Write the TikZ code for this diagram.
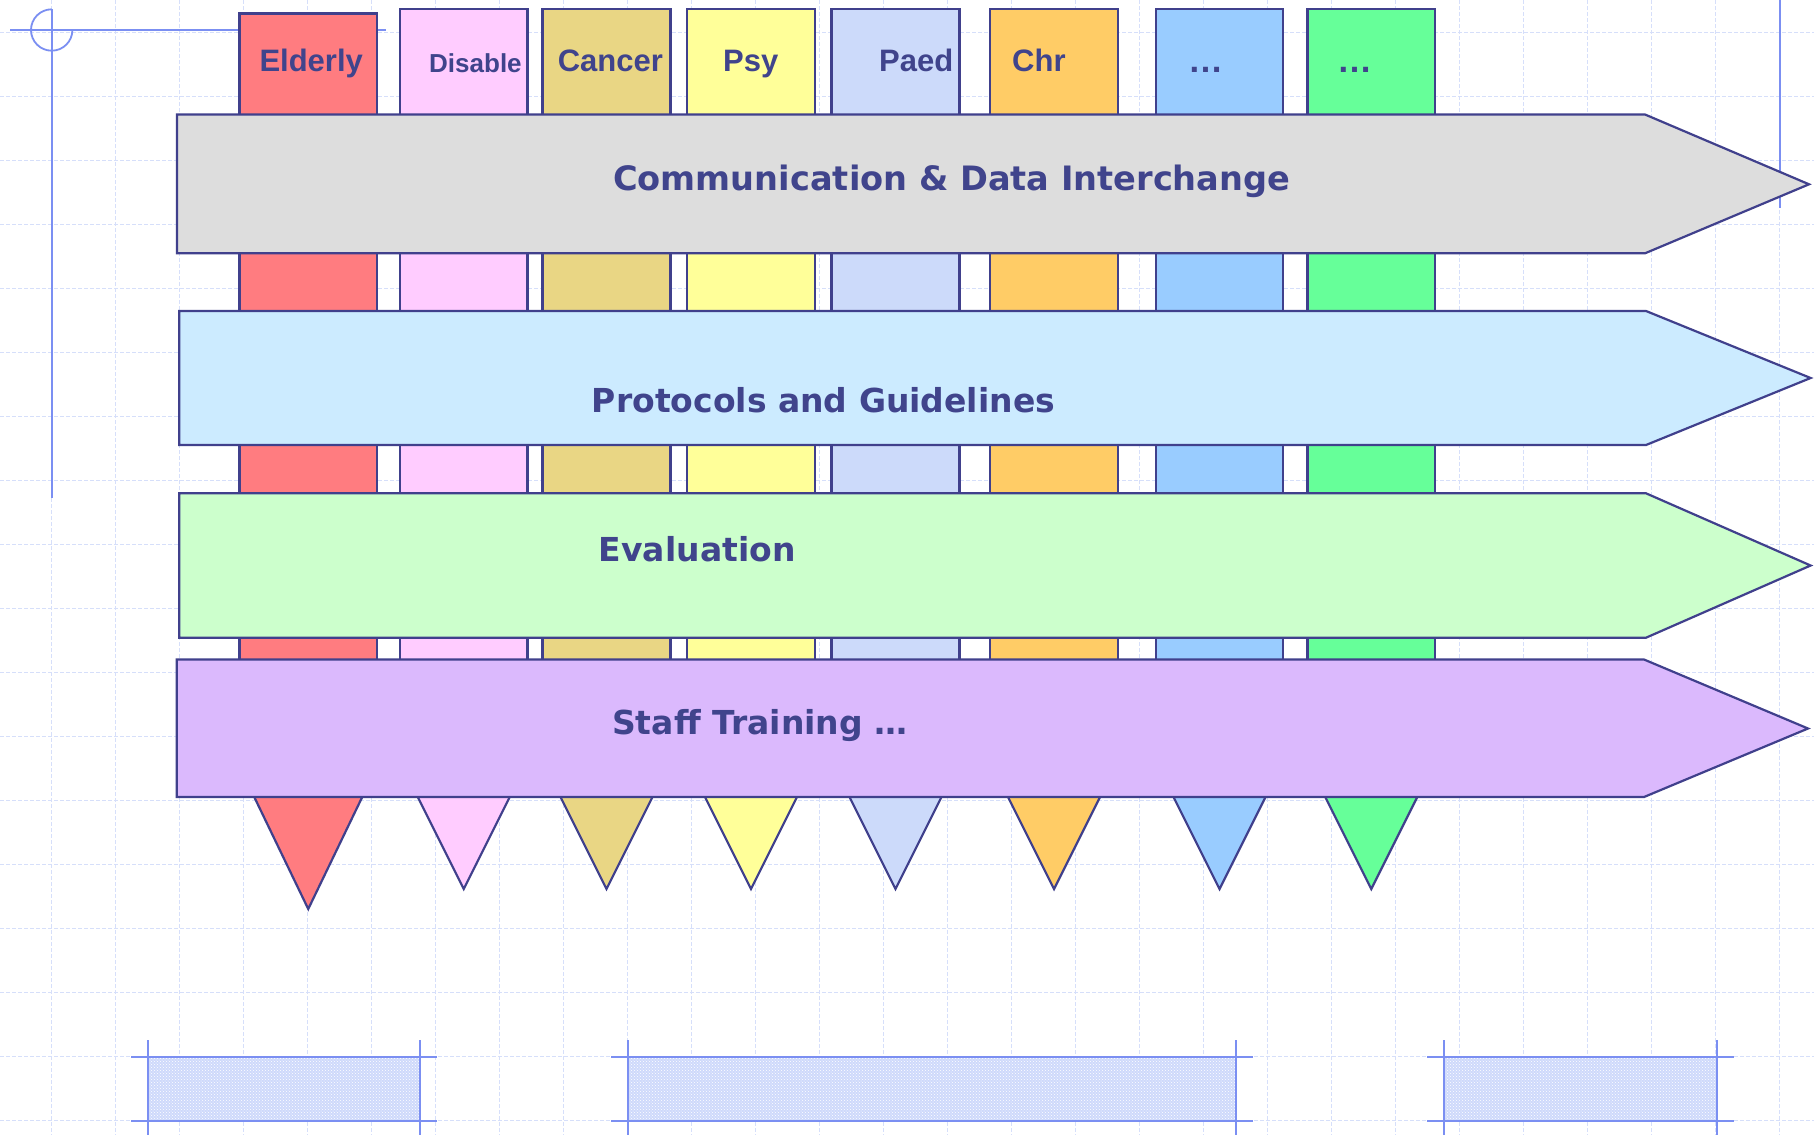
\documentclass[tikz,border=0pt]{standalone}
\usepackage{fontspec}
\usepackage{xcolor}
\usepackage{tikz}
\usetikzlibrary{patterns}

\newfontfamily\bandfont{DejaVu Sans}
\newfontfamily\colfont{Liberation Sans}

\definecolor{navyline}{RGB}{64,64,140}
\definecolor{labelblue}{RGB}{64,68,140}
\definecolor{gridblue}{RGB}{214,223,250}
\definecolor{decoblue}{RGB}{123,143,242}
\definecolor{hatchblue}{RGB}{206,217,251}
\definecolor{colElderly}{RGB}{255,124,128}
\definecolor{colDisable}{RGB}{255,204,255}
\definecolor{colCancer}{RGB}{233,214,132}
\definecolor{colPsy}{RGB}{255,255,153}
\definecolor{colPaed}{RGB}{204,218,250}
\definecolor{colChr}{RGB}{255,204,102}
\definecolor{colMoreA}{RGB}{153,204,255}
\definecolor{colMoreB}{RGB}{102,255,153}
\definecolor{commgray}{RGB}{221,221,221}
\definecolor{protoblue}{RGB}{204,235,255}
\definecolor{evalgreen}{RGB}{204,255,204}
\definecolor{staffviolet}{RGB}{219,185,253}

\begin{document}
\begin{tikzpicture}[x=1pt, y=-1pt,
        gridline/.style={gridblue, line width=1pt, dash pattern=on 4pt off 2pt},
        decoline/.style={decoblue, line width=1.8pt},
        column/.style={draw=navyline, line width=2.2pt},
        band/.style={draw=navyline, line width=2.2pt},
        bandlabel/.style={anchor=base west, inner sep=0pt, text=labelblue, font=\bandfont\bfseries\fontsize{33}{40}\selectfont},
        collabel/.style={anchor=base west, inner sep=0pt, text=labelblue, font=\colfont\bfseries\fontsize{31}{38}\selectfont}]
    \useasboundingbox (0,0) rectangle (1814,1135);
    \fill[white] (0,0) rectangle (1814,1135);

    % background grid
    \foreach \x in {-12.3,51.7,...,1814} \draw[gridline] (\x,0) -- (\x,1135);
    \foreach \y in {32.5,96.5,...,1135} \draw[gridline] (0,\y) -- (1814,\y);

    % corner marks
    \draw[decoline] (10,30) -- (386,30);
    \draw[decoline] (51.7,9.3) -- (51.7,498);
    \draw[decoline] (51.7,9.3) arc[start angle=90, end angle=360, radius=20.7pt];
    \draw[decoline] (1780,0) -- (1780,208);

    % columns with their pointers
    \foreach \l/\r/\t/\c/\h/\a in {239.5/377/13.5/colElderly/54/909,
                                   400/527.5/9.3/colDisable/46/889,
                                   542.5/670.5/9.3/colCancer/46/889,
                                   687/815/9.3/colPsy/46/889,
                                   831.5/959.5/9.3/colPaed/46/889,
                                   990/1118/9.3/colChr/46/889,
                                   1156/1283/9.3/colMoreA/46/889,
                                   1307.5/1435/9.3/colMoreB/46/889} {
        \filldraw[column, fill=\c] (\l,\t) rectangle (\r,700);
        \filldraw[column, fill=\c] ({(\l+\r)/2-\h},797) -- ({(\l+\r)/2},\a) -- ({(\l+\r)/2+\h},797);
    }
    \node[collabel] (elderly) at (259.3,71.5) {Elderly};
    \node[collabel, font=\colfont\bfseries\fontsize{26}{32}\selectfont] (disable) at (429,72.5) {Disable};
    \node[collabel] (cancer) at (557.6,71.5) {Cancer};
    \node[collabel] (psy) at (723,71.5) {Psy};
    \node[collabel] (paed) at (879,71.5) {Paed};
    \node[collabel] (chr) at (1012,71.5) {Chr};
    \node[collabel, font=\colfont\bfseries\fontsize{35}{40}\selectfont] (moreA) at (1188,72) {…};
    \node[collabel, font=\colfont\bfseries\fontsize{35}{40}\selectfont] (moreB) at (1337.6,72) {…};

    % bands across the columns
    \filldraw[band, fill=commgray] (177,114.5) -- (1645,114.5) -- (1809,184.3) -- (1645,253.3) -- (177,253.3) -- cycle;
    \filldraw[band, fill=protoblue] (179.3,311) -- (1646,311) -- (1810.6,378) -- (1646,445) -- (179.3,445) -- cycle;
    \filldraw[band, fill=evalgreen] (179.3,493.3) -- (1646,493.3) -- (1810.6,565.5) -- (1646,637.7) -- (179.3,637.7) -- cycle;
    \filldraw[band, fill=staffviolet] (176.7,659.5) -- (1644,659.5) -- (1808,728.5) -- (1644,797) -- (176.7,797) -- cycle;
    \node[bandlabel, font=\bandfont\bfseries\fontsize{33.6}{40}\selectfont] (comm) at (613,190) {Communication \& Data Interchange};
    \node[bandlabel] (proto) at (591.7,412.3) {Protocols and Guidelines};
    \node[bandlabel] (eval) at (598.7,561.7) {Evaluation};
    \node[bandlabel] (staff) at (612,734.3) {Staff Training …};

    % hatched blocks at the bottom
    \foreach \l/\r in {147.7/420, 628/1236, 1444/1717} {
        \fill[hatchblue] (\l,1056.7) rectangle (\r,1120.7);
        \fill[pattern=crosshatch dots, pattern color=white] (\l,1056.7) rectangle (\r,1120.7);
        \draw[decoline] (\l-16.7,1056.7) -- (\r+16.7,1056.7);
        \draw[decoline] (\l-16.7,1120.7) -- (\r+16.7,1120.7);
        \draw[decoline] (\l,1040) -- (\l,1135);
        \draw[decoline] (\r,1040) -- (\r,1135);
    }
\end{tikzpicture}
\end{document}
